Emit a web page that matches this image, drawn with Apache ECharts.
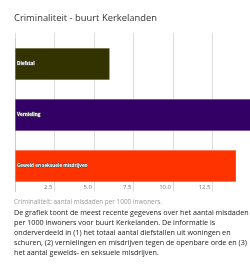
<!DOCTYPE html>
<html><head><meta charset="utf-8">
<script src="https://cdn.jsdelivr.net/npm/echarts@6/dist/echarts.min.js"></script>
<style>html,body{margin:0;padding:0;overflow:hidden;background:#fff;width:250px;height:264px}#c{width:300px;height:264px}</style>
</head><body><div id="c"></div>
<script>
const categories = ['Diefstal', 'Vernieling', 'Geweld en seksuele misdrijven'];
const values = [6.0, 16.0, 14.0];
const colors = ['#333300', '#330066', '#ff3300'];
const tickStep = 2.5;
const title = 'Criminaliteit - buurt Kerkelanden';
const caption = 'Criminaliteit: aantal misdaden per 1000 inwoners.';
const paragraph = [
  'De grafiek toont de meest recente gegevens over het aantal misdaden',
  'per 1000 inwoners voor buurt Kerkelanden. De informatie is',
  'onderverdeeld in (1) het totaal aantal diefstallen uit woningen en',
  'schuren, (2) vernielingen en misdrijven tegen de openbare orde en (3)',
  'het aantal gewelds- en seksuele misdrijven.'
];
const font = '"Open Sans", "Noto Sans", sans-serif';
const chart = echarts.init(document.getElementById('c'));
const graphics = [
  {type:'text', left:14, top:14, style:{text:title, font:'9.4px '+font, fill:'#333'}},
  {type:'text', left:14, top:199.5, style:{text:caption, font:'6.4px '+font, fill:'#999'}}
];
paragraph.forEach((t,i)=>graphics.push({type:'text', left:14, top:209.5+i*10, style:{text:t, font:'7.2px '+font, fill:'#222'}}));
chart.setOption({
  animation:false,
  grid:{left:15, top:38.5, width:276.5, height:153},
  xAxis:[{
    type:'value', position:'bottom', min:0, max:17.5, interval:tickStep,
    axisLine:{show:false}, axisTick:{show:false},
    splitLine:{show:true, lineStyle:{color:'#ddd', width:1}},
    axisLabel:{inside:true, margin:1.5, align:'right', verticalAlign:'bottom', padding:[0,2,0,0],
      fontSize:6, color:'#777', fontFamily:font,
      formatter:v=> (v===0 || v>=15) ? '' : v.toFixed(1)}
  },{
    type:'value', position:'top', min:0, max:17.5, interval:tickStep,
    axisLine:{show:false}, axisLabel:{show:false}, splitLine:{show:false},
    axisTick:{show:true, length:5.5, lineStyle:{color:'#ddd'}}
  }],
  yAxis:{type:'category', data:categories, inverse:true,
    axisLine:{show:true, lineStyle:{color:'#ccc'}}, axisTick:{show:false}, axisLabel:{show:false}},
  series:[{type:'bar', xAxisIndex:0, barWidth:32,
    data:values.map((v,i)=>({value:v, itemStyle:{color:colors[i]}})),
    itemStyle:{borderColor:'rgba(255,255,255,0.35)', borderWidth:0.5},
    label:{show:true, position:'insideLeft', distance:2, formatter:'{b}', color:'#fff',
      fontSize:4.6, fontWeight:'bold', fontFamily:font, textBorderColor:'#555', textBorderWidth:1}
  }],
  graphic:graphics
});
</script></body></html>
